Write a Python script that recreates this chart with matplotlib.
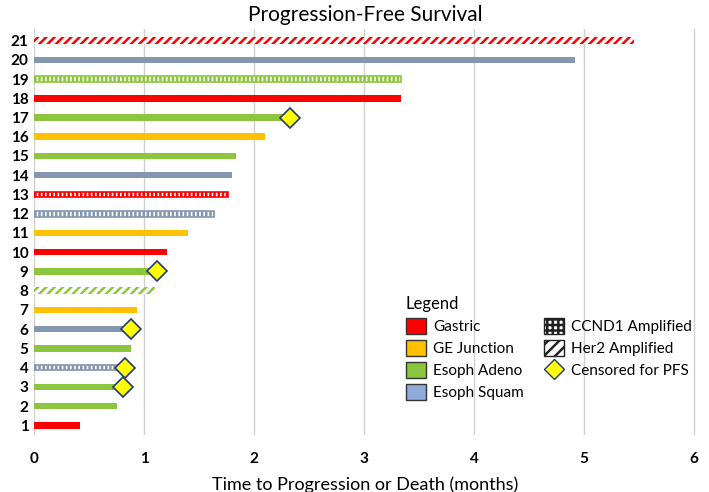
import numpy as np
import matplotlib
matplotlib.use("Agg")
import matplotlib.pyplot as plt
from matplotlib.patches import Patch
from matplotlib.lines import Line2D

plt.rcParams['font.family'] = ['Lato', 'DejaVu Sans']
plt.rcParams['hatch.linewidth'] = 1.8

# patient rows 1..21
patients = list(range(1, 22))
months = [0.42, 0.75, 0.81, 0.83, 0.88, 0.88, 0.94, 1.10, 1.12, 1.21, 1.40,
          1.64, 1.76, 1.80, 1.84, 2.10, 2.33, 3.34, 3.34, 4.92, 5.45]
tumor = ['Gastric', 'Adeno', 'Adeno', 'Squam', 'Adeno', 'Squam', 'GEJ', 'Adeno',
         'Adeno', 'Gastric', 'GEJ', 'Squam', 'Gastric', 'Squam', 'Adeno', 'GEJ',
         'Adeno', 'Gastric', 'Adeno', 'Squam', 'Gastric']
amplified = ['', '', '', 'CCND1', '', '', '', 'Her2', '', '', '',
             'CCND1', 'CCND1', '', '', '', '', '', 'CCND1', '', 'Her2']
censored = [3, 4, 6, 9, 17]

colors = {'Gastric': '#ff0000', 'GEJ': '#ffc000', 'Adeno': '#8cc63e', 'Squam': '#8496b0'}

fig = plt.figure(figsize=(7.09, 4.92), dpi=100)
ax = fig.add_axes([0.048, 0.116, 0.934, 0.825])

for p, m, t, a in zip(patients, months, tumor, amplified):
    c = colors[t]
    if a == 'Her2':
        ax.barh(p, m, height=0.34, color='white', edgecolor=c, hatch='////', lw=0)
    elif a == 'CCND1':
        ax.barh(p, m, height=0.30, color='white', edgecolor=c, hatch='||||', lw=1.2)
    else:
        ax.barh(p, m, height=0.34, color=c, lw=0)

cx = [months[p - 1] for p in censored]
ax.plot(cx, censored, 'D', ms=10, mfc='#ffff00', mec='#1f3a7a', mew=1.2, ls='none', zorder=5)

ax.set_xlim(0, 6.02)
ax.set_ylim(0.5, 21.6)
ax.set_xticks(range(7))
ax.set_yticks(patients)
ax.tick_params(length=0, labelsize=11)
for lab in ax.get_xticklabels() + ax.get_yticklabels():
    lab.set_fontweight('bold')
ax.tick_params(axis='x', pad=12)
ax.tick_params(axis='y', pad=4)
ax.grid(axis='x', color='#d0d0d0', lw=1)
ax.set_axisbelow(True)
for s in ax.spines.values():
    s.set_visible(False)

ax.set_title('Progression-Free Survival', fontsize=15, pad=6)
ax.set_xlabel('Time to Progression or Death (months)', fontsize=13, labelpad=8)

handles = [
    Patch(facecolor='#ff0000', edgecolor='#333333', label='Gastric'),
    Patch(facecolor='#ffc000', edgecolor='#333333', label='GE Junction'),
    Patch(facecolor='#8cc63e', edgecolor='#333333', label='Esoph Adeno'),
    Patch(facecolor='#8eaadb', edgecolor='#333333', label='Esoph Squam'),
    Patch(facecolor='white', edgecolor='#222222', hatch='+++', label='CCND1 Amplified'),
    Patch(facecolor='white', edgecolor='#222222', hatch='///', label='Her2 Amplified'),
    Line2D([], [], marker='D', ms=10, mfc='#ffff00', mec='#1f3a7a', ls='none', label='Censored for PFS'),
]
leg = ax.legend(handles=handles, ncol=2, title='Legend', loc='upper left',
                bbox_to_anchor=(0.55, 0.36), frameon=False, fontsize=11,
                title_fontsize=12, handlelength=1.3, handleheight=1.3,
                columnspacing=1.3, labelspacing=0.35, handletextpad=0.5,
                alignment='left', borderpad=0)

fig.savefig('out.png', dpi=100)
